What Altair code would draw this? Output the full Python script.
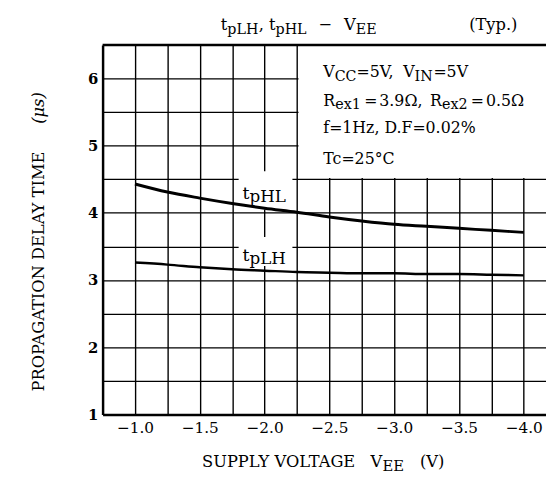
import altair as alt
import pandas as pd

# ---------------- data ----------------
VEE = [-1.0, -1.25, -1.5, -1.75, -2.0, -2.25, -2.5, -2.75, -3.0, -3.25, -3.5, -3.75, -4.0]
T_PHL = [4.43, 4.31, 4.22, 4.14, 4.07, 4.01, 3.94, 3.88, 3.83, 3.80, 3.77, 3.74, 3.71]
T_PLH = [3.26, 3.23, 3.19, 3.16, 3.14, 3.12, 3.11, 3.10, 3.10, 3.09, 3.09, 3.08, 3.07]
SERIES = ["tpHL", "tpLH"]
LINE_WIDTHS = [3.0, 2.5]

X_GRID = [-1.0, -1.25, -1.5, -1.75, -2.0, -2.25, -2.5, -2.75, -3.0, -3.25, -3.5, -3.75, -4.0]
Y_GRID = [1.0, 1.5, 2.0, 2.5, 3.0, 3.5, 4.0, 4.5, 5.0, 5.5, 6.0]
XDOM = [-0.75, -4.172]
YDOM = [1.0, 6.5]

# white areas that hide the grid (x1, x2, y1, y2 in data units)
MASKS = [
    (-2.262, -4.40, 4.52, 6.5),   # conditions box
    (-1.80, -2.215, 4.05, 4.62),  # tpHL label
    (-1.80, -2.215, 3.21, 3.64),  # tpLH label
]

FONT = "DejaVu Serif"
W, H = 450, 375
PAD = {"left": 96, "top": 34, "right": 0, "bottom": 58}
OX = 8 + PAD["left"]
OY = 8 + PAD["top"]


def vx(px):
    return XDOM[0] - (px - OX) * (XDOM[0] - XDOM[1]) / W


def vy(py):
    return YDOM[1] - (py - OY) * (YDOM[1] - YDOM[0]) / H


# approximate advance widths of DejaVu Serif (em)
WID = {" ": .318, "%": .95, "(": .39, ")": .39, ",": .318, ".": .318, "=": .838,
       "A": .722, "C": .732, "D": .83, "E": .729, "F": .68, "G": .806, "H": .871, "I": .415,
       "L": .677, "M": 1.006, "N": .838, "O": .82, "P": .688, "R": .765, "S": .652, "T": .689,
       "U": .822, "V": .722, "Y": .691, "c": .56, "e": .592, "f": .368, "p": .64, "s": .514,
       "t": .402, "x": .579, "y": .579, "z": .529, "Ω": .8, "°": .5, "μ": .64, "−": .838}
for d in "0123456789":
    WID[d] = .636


def tw(s, size):
    return sum(WID.get(c, .6) for c in s) * size


MAIN = []   # (text, x_px, baseline_px, size)
SUB = []


def put(parts, base, main, sub):
    # parts: (text, is_sub, x_px)
    for t, is_sub, px in parts:
        (SUB if is_sub else MAIN).append((t, px, base, sub if is_sub else main))


def flow(parts, x0, base, main, sub):
    # parts: (text, is_sub, gap_after_px)
    x = x0
    for t, is_sub, gap in parts:
        size = sub if is_sub else main
        (SUB if is_sub else MAIN).append((t, x, base, size))
        x += tw(t, size) + gap


# title
flow([("t", 0, 0), ("pLH", 1, 0), (", t", 0, 0), ("pHL", 1, 12), ("−", 0, 12), ("V", 0, 0), ("EE", 1, 0)],
     224, 27, 16.5, 14.5)
put([("(Typ.)", 0, 476)], 27, 16.5, 14.5)
# conditions box
flow([("V", 0, 0), ("CC", 1, 1), ("=", 0, 0), ("5V,", 0, 7), ("V", 0, 0), ("IN", 1, 1), ("=", 0, 0),
      ("5V", 0, 0)], 328, 75, 16, 14.5)
flow([("R", 0, 0), ("ex1", 1, 3), ("=", 0, 2), ("3.9Ω,", 0, 8), ("R", 0, 0), ("ex2", 1, 3), ("=", 0, 2),
      ("0.5Ω", 0, 0)], 328, 104, 16, 14.5)
put([("f=1Hz, D.F=0.02%", 0, 328)], 131.7, 16, 14)
put([("Tc=25°C", 0, 328)], 162.7, 16, 14)
# curve labels
flow([("t", 0, 0), ("pHL", 1, 0)], 246, 198, 17.5, 17)
flow([("t", 0, 0), ("pLH", 1, 0)], 246, 261, 17.5, 17)
# x title
put([("SUPPLY VOLTAGE", 0, 205), ("V", 0, 376), ("EE", 1, 388), ("(V)", 0, 426)], 470.5, 16.5, 15)

YTITLE = [("PROPAGATION DELAY TIME", 40, 272, "normal"), ("(μs)", 40, 106, "italic")]

# ---------------- chart ----------------
xs = alt.Scale(domain=XDOM, nice=False, zero=False)
ys = alt.Scale(domain=YDOM, nice=False, zero=False)

x_axis = alt.Axis(
    values=X_GRID, grid=True, gridColor="black", gridWidth=1.4, gridOpacity=1,
    ticks=False, domainColor="black", domainWidth=2.5, title=None,
    labelExpr="abs(datum.value*2 - round(datum.value*2)) < 0.001 ? format(datum.value, '.1f') : ''",
    labelFont=FONT, labelFontSize=15.5, labelColor="black", labelPadding=6,
    labelFlush=False, labelOverlap=False,
)
y_axis = alt.Axis(
    values=Y_GRID, grid=True, gridColor="black", gridWidth=1.4, gridOpacity=1,
    ticks=False, domainColor="black", domainWidth=2.5, title=None,
    labelExpr="datum.value == round(datum.value) ? format(datum.value, 'd') : ''",
    labelFont=FONT, labelFontSize=15, labelFontWeight="bold", labelColor="black",
    labelPadding=5, labelFlush=False, labelOverlap=False,
)

XE = alt.X("x:Q", scale=xs, axis=x_axis)
YE = alt.Y("y:Q", scale=ys, axis=y_axis)

lines_df = pd.DataFrame({
    "x": VEE * 2,
    "y": T_PHL + T_PLH,
    "s": [SERIES[0]] * len(VEE) + [SERIES[1]] * len(VEE),
})

curves = alt.Chart(lines_df).mark_line(color="black", interpolate="monotone").encode(
    x=XE, y=YE,
    detail="s:N",
    strokeWidth=alt.StrokeWidth("s:N", scale=alt.Scale(domain=SERIES, range=LINE_WIDTHS), legend=None),
)

mask_df = pd.DataFrame(MASKS, columns=["x", "x2", "y", "y2"])
masks = alt.Chart(mask_df).mark_rect(color="white", opacity=1).encode(
    x=XE, x2="x2:Q", y=YE, y2="y2:Q"
)

top_rule = alt.Chart(pd.DataFrame({"y": [YDOM[1]]})).mark_rule(
    color="black", strokeWidth=2.5
).encode(y=YE)


def text_layers(frags, dy):
    layers = []
    for size in sorted(set(f[3] for f in frags)):
        rows = [{"x": vx(f[1]), "y": vy(f[2]), "t": f[0]} for f in frags if f[3] == size]
        layers.append(
            alt.Chart(pd.DataFrame(rows)).mark_text(
                font=FONT, fontSize=size, dy=dy, align="left", baseline="alphabetic", color="black"
            ).encode(x=XE, y=YE, text="t:N")
        )
    return layers


ytitle_layers = []
for t, px, py, style in YTITLE:
    ytitle_layers.append(
        alt.Chart(pd.DataFrame([{"x": vx(px), "y": vy(py), "t": t}])).mark_text(
            font=FONT, fontSize=16.5, angle=270, align="center", baseline="middle",
            fontStyle=style, color="black"
        ).encode(x=XE, y=YE, text="t:N")
    )

chart = alt.layer(
    masks,
    curves,
    top_rule,
    *text_layers(MAIN, 0),
    *text_layers(SUB, 3.5),
    *ytitle_layers,
).properties(
    width=W, height=H,
    autosize=alt.AutoSizeParams(type="none"),
    padding=PAD,
    background="white",
).configure_view(stroke=None)

chart.save("out.html", embed_options={"renderer": "svg", "actions": False})
